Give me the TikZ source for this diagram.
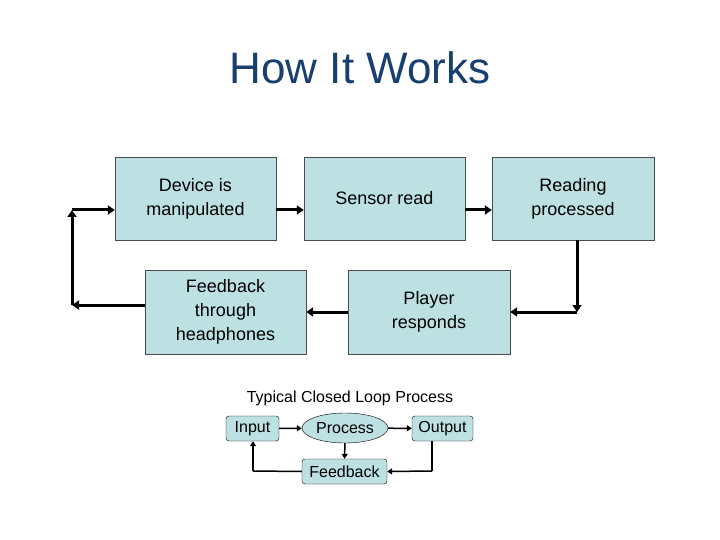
\documentclass[tikz,border=0pt]{standalone}
\usepackage{fontspec}
\setmainfont{Liberation Sans}
\usetikzlibrary{arrows.meta,shapes.geometric}
\definecolor{boxfill}{HTML}{BDE0E3}
\definecolor{titleblue}{HTML}{173F6F}
\begin{document}
\begin{tikzpicture}[x=1pt,y=-1pt,
  big/.style={draw=black!70,fill=boxfill,align=center,font=\fontsize{18}{24}\selectfont,inner sep=0},
  small/.style={draw=black,fill=boxfill,rounded corners=3pt,font=\fontsize{16}{18}\selectfont,inner sep=0},
  thick arrow/.style={line width=3pt,-{Triangle[length=7pt,width=9pt]}},
  thin arrow/.style={line width=1.5pt,-{Triangle[length=5pt,width=6pt]}}]
\useasboundingbox (0,0) rectangle (720,540);
\node[font=\fontsize{44}{50}\selectfont,text=titleblue] (title) at (360,68) {How It Works};
\node[big,minimum width=161pt,minimum height=83pt] (dev) at (195.5,198.5) {Device is\\manipulated};
\node[big,minimum width=161pt,minimum height=83pt] (sen) at (384.5,198.5) {Sensor read};
\node[big,minimum width=162pt,minimum height=83pt] (rea) at (573,198.5) {Reading\\processed};
\node[big,minimum width=161pt,minimum height=84pt] (fb) at (225.5,312) {Feedback\\through\\headphones};
\node[big,minimum width=162pt,minimum height=84pt] (pla) at (429,312) {Player\\responds};
\coordinate (c1) at (72,305);
\coordinate (c2) at (72,210);
\coordinate (c3) at (577,312);
\draw[thick arrow] (dev.east |- 0,210) -- (sen.west |- 0,210);
\draw[thick arrow] (sen.east |- 0,210) -- (rea.west |- 0,210);
\draw[thick arrow] (rea.south -| c3) -- (c3);
\draw[thick arrow] (c3) -- (pla.east |- c3);
\draw[thick arrow] (pla.west) -- (fb.east |- pla.west);
\draw[thick arrow] (fb.west |- c1) -- (c1);
\draw[thick arrow] (c1) -- (c2);
\draw[thick arrow] (c2) -- (dev.west |- c2);
\node[font=\fontsize{16}{18}\selectfont] (cap) at (350,398) {Typical Closed Loop Process};
\node[small,minimum width=53pt,minimum height=25pt] (in) at (252.5,428.5) {Input};
\node[small,ellipse,rounded corners=0,minimum width=86pt,minimum height=30pt] (pr) at (345,428) {Process};
\node[small,minimum width=61pt,minimum height=25pt] (out) at (442.5,428.5) {Output};
\node[small,minimum width=85pt,minimum height=25pt] (fbk) at (344.5,471.5) {Feedback};
\coordinate (d1) at (432,471);
\coordinate (d2) at (253,471);
\draw[thin arrow] (in) -- (pr);
\draw[thin arrow] (pr) -- (out);
\draw[thin arrow] (pr) -- (fbk);
\draw[line width=1.5pt] (out.south -| d1) -- (d1);
\draw[thin arrow] (d1) -- (fbk.east);
\draw[line width=1.5pt] (fbk.west) -- (d2);
\draw[thin arrow] (d2) -- (in.south -| d2);
\end{tikzpicture}
\end{document}
